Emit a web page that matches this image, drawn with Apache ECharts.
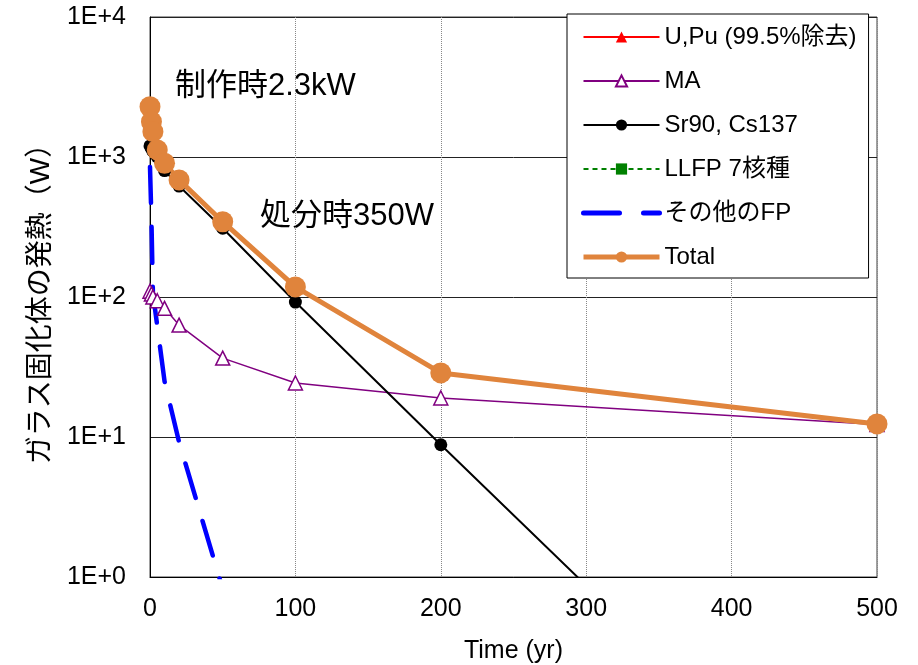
<!DOCTYPE html>
<html>
<head>
<meta charset="utf-8">
<script src="https://cdn.jsdelivr.net/npm/echarts@6/dist/echarts.min.js"></script>
<style>
    html, body { margin: 0; padding: 0; background: #fff; }
    #chart { width: 918px; height: 665px; }
</style>
</head>
<body>
<div id="chart"></div>
<script>
// 経過時間 (yr)
var years = [0, 1, 2, 5, 10, 20, 50, 100, 200, 500];
// 各成分の発熱 (W) - 1未満はグラフ範囲外
var uPu = [0.4, 0.4, 0.4, 0.4, 0.4, 0.4, 0.4, 0.35, 0.3, 0.25];
var ma = [110, 105, 100, 94, 83, 63, 36.6, 24.3, 19, 12.3];
var srCs = [1200, 1150, 1100, 1000, 800, 620, 310, 92, 8.8, 0.0085];
var llfp = [0.003, 0.003, 0.003, 0.003, 0.003, 0.003, 0.003, 0.003, 0.003, 0.003];
var otherFp = [850, 350, 107, 62, 25, 9.2, 0.82, 0.3, 0.15, 0.05];
var total = [2286, 1786, 1517, 1124, 902, 686, 345, 118, 28.7, 12.4];

var seriesNames = ['U,Pu (99.5%除去)', 'MA', 'Sr90, Cs137', 'LLFP 7核種', 'その他のFP', 'Total'];
var yTicks = ['1E+0', '1E+1', '1E+2', '1E+3', '1E+4'];

var FONT = '"Liberation Sans", Arial, "Noto Sans CJK JP", sans-serif';

function pairs(vals) {
    var out = [];
    for (var i = 0; i < years.length; i++) {
        out.push([years[i], vals[i]]);
    }
    return out;
}

var myChart = echarts.init(document.getElementById('chart'));

var option = {
    animation: false,
    textStyle: { fontFamily: FONT },
    grid: {
        left: 150,
        right: 41,
        top: 17,
        bottom: 88,
        outerBoundsMode: 'none',
        show: true,
        borderColor: '#404040',
        borderWidth: 1
    },
    legend: {
        orient: 'vertical',
        left: 567,
        top: 14,
        padding: [11, 12, 9, 14],
        itemWidth: 76,
        itemHeight: 14,
        itemGap: 20,
        backgroundColor: '#fff',
        borderColor: '#000',
        borderWidth: 1,
        selectedMode: false,
        textStyle: { fontSize: 24, color: '#000', fontFamily: FONT, lineHeight: 24 },
        // 凡例の線幅は系列と同じに
        data: [
            { name: seriesNames[0], lineStyle: { width: 2 } },
            { name: seriesNames[1], lineStyle: { width: 2 } },
            { name: seriesNames[2], lineStyle: { width: 2 } },
            { name: seriesNames[3], lineStyle: { width: 2 } },
            { name: seriesNames[4], lineStyle: { width: 5 }, itemStyle: { opacity: 0 } },
            { name: seriesNames[5], lineStyle: { width: 5 } }
        ]
    },
    xAxis: {
        type: 'value',
        min: 0,
        max: 500,
        interval: 100,
        name: 'Time (yr)',
        nameLocation: 'middle',
        nameGap: 62,
        nameTextStyle: { fontSize: 25, color: '#000', fontFamily: FONT },
        axisLine: { show: true, lineStyle: { color: '#000', width: 1 } },
        axisTick: { show: false },
        axisLabel: { fontSize: 25, color: '#000', margin: 20, fontFamily: FONT },
        splitLine: { show: true, lineStyle: { color: '#888', type: 'dotted', width: 1 } }
    },
    yAxis: {
        type: 'log',
        logBase: 10,
        min: 1,
        max: 10000,
        name: 'ガラス固化体の発熱（W）',
        nameLocation: 'middle',
        nameGap: 95,
        nameTextStyle: { fontSize: 28, color: '#000', fontFamily: FONT },
        axisLine: { show: true, lineStyle: { color: '#000', width: 1 } },
        axisTick: { show: false },
        axisLabel: {
            fontSize: 25,
            color: '#000',
            margin: 24,
            fontFamily: FONT,
            formatter: function(v) {
                var k = Math.round(Math.log10(v));
                return yTicks[k];
            }
        },
        splitLine: { show: true, lineStyle: { color: '#222', width: 1 } }
    },
    graphic: [
        {
            type: 'text',
            x: 175,
            y: 86,
            style: { text: '制作時2.3kW', fontSize: 31, fill: '#000', verticalAlign: 'middle', fontFamily: FONT }
        },
        {
            type: 'text',
            x: 260,
            y: 216,
            style: { text: '処分時350W', fontSize: 31, fill: '#000', verticalAlign: 'middle', fontFamily: FONT }
        }
    ],
    series: [
        {
            name: seriesNames[0],
            type: 'line',
            data: pairs(uPu),
            symbol: 'triangle',
            symbolSize: 12,
            itemStyle: { color: '#ff0000' },
            lineStyle: { color: '#ff0000', width: 2 }
        },
        {
            name: seriesNames[1],
            type: 'line',
            data: pairs(ma),
            symbol: 'triangle',
            symbolSize: 14,
            itemStyle: { color: '#fff', borderColor: '#800080', borderWidth: 1.5 },
            lineStyle: { color: '#800080', width: 1.5 }
        },
        {
            name: seriesNames[2],
            type: 'line',
            data: pairs(srCs),
            symbol: 'circle',
            symbolSize: 13,
            itemStyle: { color: '#000' },
            lineStyle: { color: '#000', width: 2 }
        },
        {
            name: seriesNames[3],
            type: 'line',
            data: pairs(llfp),
            symbol: 'rect',
            symbolSize: 12,
            itemStyle: { color: '#008000' },
            lineStyle: { color: '#008000', width: 2, type: [5, 4] }
        },
        {
            name: seriesNames[4],
            type: 'line',
            data: pairs(otherFp),
            showSymbol: false,
            symbol: 'none',
            itemStyle: { color: '#0000ff' },
            lineStyle: { color: '#0000ff', width: 4.5, type: [36, 24], cap: 'round' }
        },
        {
            name: seriesNames[5],
            type: 'line',
            data: pairs(total),
            symbol: 'circle',
            symbolSize: 21,
            itemStyle: { color: '#e0843c' },
            lineStyle: { color: '#e0843c', width: 5 }
        }
    ]
};

myChart.setOption(option);
</script>
</body>
</html>
